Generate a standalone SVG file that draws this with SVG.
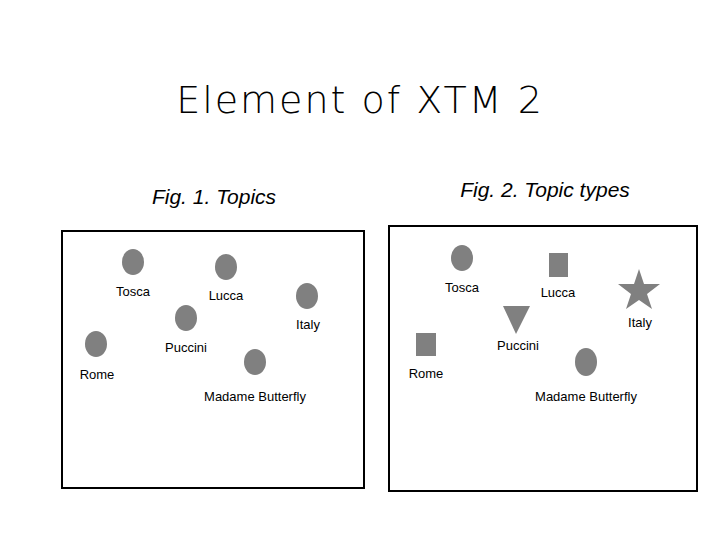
<svg xmlns="http://www.w3.org/2000/svg" width="720" height="540" viewBox="0 0 720 540">
<style>
.t{font-family:"Liberation Sans",Arial,sans-serif;font-size:13px;fill:#000;text-anchor:middle;transform-box:fill-box}
.f{font-family:"Liberation Sans",Arial,sans-serif;font-size:21px;font-style:italic;text-anchor:middle}
.s{fill:#808080}
.box{fill:#fff;stroke:#000;stroke-width:2}
</style>
<rect width="720" height="540" fill="#fff"/>
<text x="360" y="113" font-family="'DejaVu Sans',sans-serif" font-size="38" font-weight="200" text-anchor="middle" letter-spacing="2">Element of XTM 2</text>
<text class="f" x="214" y="204">Fig. 1. Topics</text>
<text class="f" x="545" y="197">Fig. 2. Topic types</text>
<rect class="box" x="62" y="231" width="302" height="257" stroke-width="1.5"/>
<rect class="box" x="389" y="226" width="308" height="265" stroke-width="2.5"/>
<g id="f1-tosca"><ellipse class="s" cx="133" cy="262" rx="11" ry="13"/><text class="t" x="133" y="296">Tosca</text></g>
<g id="f1-lucca"><ellipse class="s" cx="226" cy="267" rx="11" ry="13"/><text class="t" x="226" y="300">Lucca</text></g>
<g id="f1-italy"><ellipse class="s" cx="307" cy="296" rx="11" ry="13"/><text class="t" x="308" y="329">Italy</text></g>
<g id="f1-puccini"><ellipse class="s" cx="186" cy="318" rx="11" ry="13"/><text class="t" x="186" y="352">Puccini</text></g>
<g id="f1-rome"><ellipse class="s" cx="96" cy="344" rx="11" ry="13"/><text class="t" x="97" y="379">Rome</text></g>
<g id="f1-mb"><ellipse class="s" cx="255" cy="362" rx="11" ry="13"/><text class="t" x="255" y="401">Madame Butterfly</text></g>
<g id="f2-tosca"><ellipse class="s" cx="462" cy="258" rx="11" ry="13"/><text class="t" x="462" y="292">Tosca</text></g>
<g id="f2-lucca"><rect class="s" x="549" y="253" width="19" height="24"/><text class="t" x="558" y="297">Lucca</text></g>
<g id="f2-italy"><polygon class="s" points="639,269 644,284 660,284 647,294 652,309 639,300 626,309 631,294 618,284 634,284"/><text class="t" x="640" y="327">Italy</text></g>
<g id="f2-puccini"><polygon class="s" points="503,306 530,306 516,334"/><text class="t" x="518" y="350">Puccini</text></g>
<g id="f2-rome"><rect class="s" x="416" y="333" width="20" height="23"/><text class="t" x="426" y="378">Rome</text></g>
<g id="f2-mb"><ellipse class="s" cx="586" cy="362" rx="11" ry="14"/><text class="t" x="586" y="401">Madame Butterfly</text></g>
<g id="connectors"/>
</svg>
